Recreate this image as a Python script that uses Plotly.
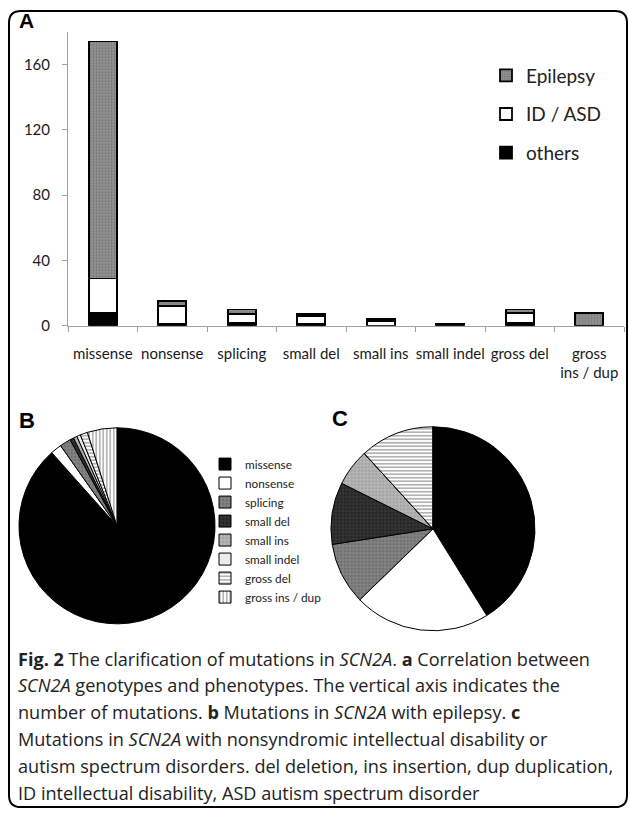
import plotly.graph_objects as go

# ---------------- data ----------------
categories = ["missense", "nonsense", "splicing", "small del", "small ins",
              "small indel", "gross del", "gross ins / dup"]
tick_labels = ["missense", "nonsense", "splicing", "small del", "small ins",
               "small indel", "gross del", "gross<br>ins / dup"]
epilepsy = [145, 3, 3, 1, 1, 1, 2, 8]
id_asd = [21, 11, 5, 5, 3, 0, 6, 0]
others = [8, 1, 2, 1, 0, 0, 2, 0]
y_ticks = [0, 40, 80, 120, 160]

caption_lines = [
    "<b>Fig. 2</b> The clarification of mutations in <i>SCN2A</i>. <b>a</b> Correlation between",
    "<i>SCN2A</i> genotypes and phenotypes. The vertical axis indicates the",
    "number of mutations. <b>b</b> Mutations in <i>SCN2A</i> with epilepsy. <b>c</b>",
    "Mutations in <i>SCN2A</i> with nonsyndromic intellectual disability or",
    "autism spectrum disorders. del deletion, ins insertion, dup duplication,",
    "ID intellectual disability, ASD autism spectrum disorder",
]

# ---------------- helpers ----------------
W, H = 629, 820
def px(x):
    return x / W
def py(y):
    return 1 - y / H

FONT = "Lato"
CAP_FONT = "Open Sans"

fig = go.Figure()

# stacked bars (panel A)
fig.add_trace(go.Bar(x=tick_labels, y=others, name="others", width=0.4,
                     legendgroup="o", legendrank=3,
                     marker=dict(color="#000000", line=dict(color="#000", width=1.8))))
fig.add_trace(go.Bar(x=tick_labels, y=id_asd, name="ID / ASD", width=0.4,
                     legendgroup="i", legendrank=2,
                     marker=dict(color="#ffffff", line=dict(color="#000", width=1.8))))
fig.add_trace(go.Bar(x=tick_labels, y=epilepsy, name="Epilepsy", width=0.4,
                     legendgroup="e", legendrank=1,
                     marker=dict(color="#939393", line=dict(color="#000", width=1.8),
                                 pattern=dict(shape=".", fillmode="overlay",
                                              bgcolor="#939393", fgcolor="#555555",
                                              size=3, solidity=0.4))))

# pies
pie_colors = ["#000000", "#ffffff", "#858585", "#353535", "#b8b8b8", "#ececec", "#ffffff", "#ffffff"]
pie_shapes = ["", "", ".", ".", ".", "", "-", "|"]
pie_fg = ["#000000", "#ffffff", "#555555", "#111111", "#8a8a8a", "#ececec", "#555555", "#5a5a5a"]
pie_marker = dict(colors=pie_colors, line=dict(color="#000", width=1),
                  pattern=dict(shape=pie_shapes, fillmode="overlay", bgcolor=pie_colors,
                               fgcolor=pie_fg, size=3.5, solidity=0.45))

fig.add_trace(go.Pie(labels=categories, values=epilepsy, sort=False,
                     direction="clockwise", rotation=0, textinfo="none",
                     marker=pie_marker, legend="legend2",
                     domain=dict(x=[px(18), px(216)], y=[py(630), py(432)])))
fig.add_trace(go.Pie(labels=categories, values=id_asd, sort=False,
                     direction="clockwise", rotation=0, textinfo="none",
                     marker=pie_marker, legend="legend3",
                     domain=dict(x=[px(330), px(536)], y=[py(637), py(431)])))

annotations = [
    dict(text="<b>A</b>", x=px(17), y=py(21), xanchor="left", yanchor="middle",
         font=dict(family="Liberation Sans", size=21, color="#000")),
    dict(text="<b>B</b>", x=px(17), y=py(425), xanchor="left", yanchor="middle",
         font=dict(family="Liberation Sans", size=22, color="#000")),
    dict(text="<b>C</b>", x=px(330), y=py(423), xanchor="left", yanchor="middle",
         font=dict(family="Liberation Sans", size=22, color="#000")),
]
cap_y0, cap_dy = 665, 27.2
for i, line in enumerate(caption_lines):
    annotations.append(dict(text=line, x=px(16), y=py(cap_y0 + i * cap_dy),
                            xanchor="left", yanchor="middle",
                            font=dict(family=CAP_FONT, size=18.1, color="#222")))
for a in annotations:
    a.update(xref="paper", yref="paper", showarrow=False)

# rounded border
x0, y0, x1, y1, r = 9, 11, 627, 815, 12
path = (f"M {px(x0+r)},{py(y0)} L {px(x1-r)},{py(y0)} Q {px(x1)},{py(y0)} {px(x1)},{py(y0+r)} "
        f"L {px(x1)},{py(y1-r)} Q {px(x1)},{py(y1)} {px(x1-r)},{py(y1)} "
        f"L {px(x0+r)},{py(y1)} Q {px(x0)},{py(y1)} {px(x0)},{py(y1-r)} "
        f"L {px(x0)},{py(y0+r)} Q {px(x0)},{py(y0)} {px(x0+r)},{py(y0)} Z")

fig.update_layout(
    width=W, height=H, margin=dict(l=0, r=0, t=0, b=0),
    paper_bgcolor="white", plot_bgcolor="white",
    barmode="stack", bargap=0.6,
    font=dict(family=FONT, color="#222"),
    xaxis=dict(domain=[px(68), px(624)], type="category", range=[-0.5, 7.5],
               showline=True, linecolor="#a0a0a0", linewidth=1,
               ticks="outside", tickson="boundaries", ticklen=5, tickcolor="#a0a0a0",
               showgrid=False, zeroline=False, tickangle=0, ticklabelstandoff=14,
               tickfont=dict(family=FONT, size=15, color="#1a1a1a")),
    yaxis=dict(domain=[py(329), py(32)], range=[0, 180], tickvals=y_ticks,
               showline=True, linecolor="#a0a0a0", linewidth=1,
               ticks="outside", ticklen=5, tickcolor="#a0a0a0",
               showgrid=False, zeroline=False, ticklabelstandoff=9,
               tickfont=dict(family=FONT, size=15, color="#1a1a1a")),
    legend=dict(x=px(486), y=py(57), xanchor="left", yanchor="top",
                traceorder="grouped", tracegroupgap=11,
                font=dict(family=FONT, size=19, color="#222"),
                bgcolor="rgba(0,0,0,0)"),
    legend2=dict(x=px(205), y=py(454), xanchor="left", yanchor="top",
                 font=dict(family=FONT, size=11.8, color="#222"),
                 bgcolor="rgba(0,0,0,0)"),
    legend3=dict(x=px(523), y=py(451), xanchor="left", yanchor="top",
                 font=dict(family=FONT, size=11.8, color="#222"),
                 bgcolor="rgba(0,0,0,0)"),
    annotations=annotations,
    shapes=[dict(type="path", path=path, xref="paper", yref="paper",
                 line=dict(color="#000", width=2))],
)

fig.write_html("out.html", config={"displayModeBar": False},
               post_script="document.body.style.margin='0';")
